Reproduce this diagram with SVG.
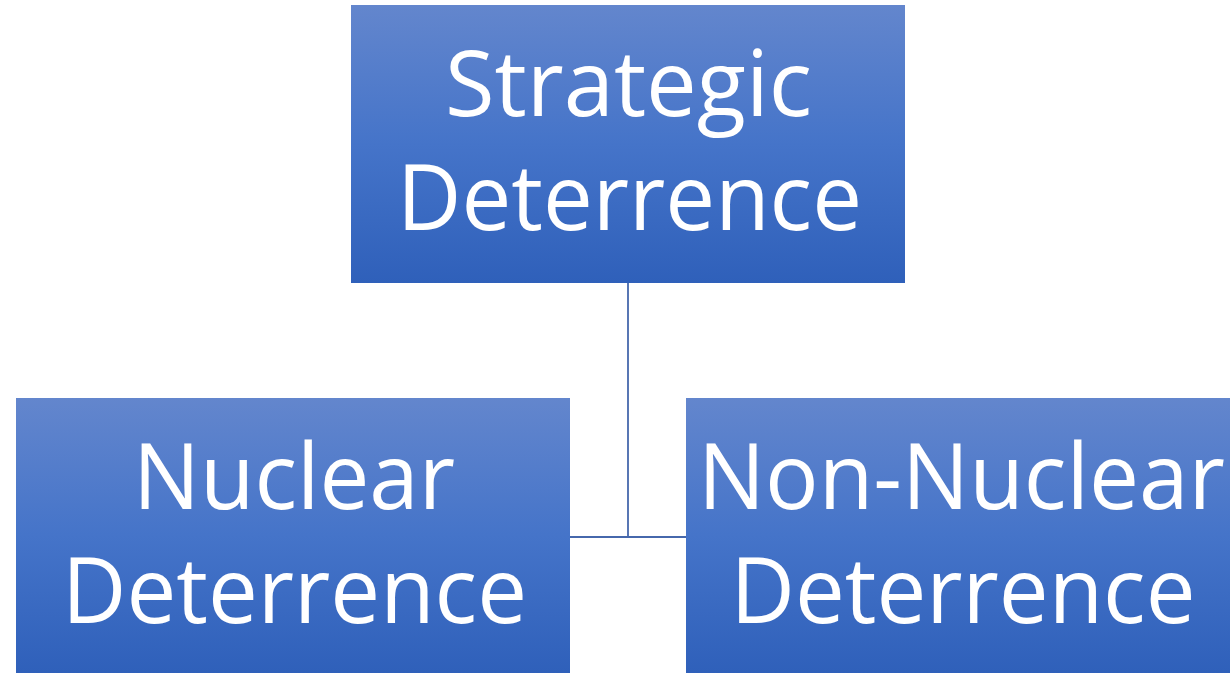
<svg xmlns="http://www.w3.org/2000/svg" width="1230" height="673" viewBox="0 0 1230 673">
  <defs>
    <linearGradient id="boxGrad" x1="0" y1="0" x2="0" y2="1">
      <stop offset="0" stop-color="#6386cd"/>
      <stop offset="0.5" stop-color="#4574c9"/>
      <stop offset="1" stop-color="#2f60ba"/>
    </linearGradient>
    <style>
      .box { fill: url(#boxGrad); }
      .lbl { font-family: "Open Sans", "Noto Sans", sans-serif; font-size: 92px; fill: #ffffff; text-anchor: middle; }
      .conn { fill: none; stroke: #4668ac; stroke-width: 1.8; }
    </style>
  </defs>
  <rect width="1230" height="673" fill="#ffffff"/>
  <g id="connectors">
    <path class="conn" d="M628,283 V537"/>
    <path class="conn" d="M570,537 H686"/>
  </g>
  <g id="node-strategic">
    <rect class="box" x="351" y="5" width="554" height="278"/>
    <text class="lbl" x="628.5" y="116" textLength="367" lengthAdjust="spacingAndGlyphs">Strategic</text>
    <text class="lbl" x="629.5" y="230" textLength="465" lengthAdjust="spacingAndGlyphs">Deterrence</text>
  </g>
  <g id="node-nuclear">
    <rect class="box" x="16" y="398" width="554" height="275"/>
    <text class="lbl" x="294" y="509" textLength="322" lengthAdjust="spacingAndGlyphs">Nuclear</text>
    <text class="lbl" x="294.5" y="623" textLength="465" lengthAdjust="spacingAndGlyphs">Deterrence</text>
  </g>
  <g id="node-nonnuclear">
    <rect class="box" x="686" y="398" width="544" height="275"/>
    <text class="lbl" x="961.5" y="509" textLength="527" lengthAdjust="spacingAndGlyphs">Non-Nuclear</text>
    <text class="lbl" x="963" y="623" textLength="465" lengthAdjust="spacingAndGlyphs">Deterrence</text>
  </g>
</svg>
